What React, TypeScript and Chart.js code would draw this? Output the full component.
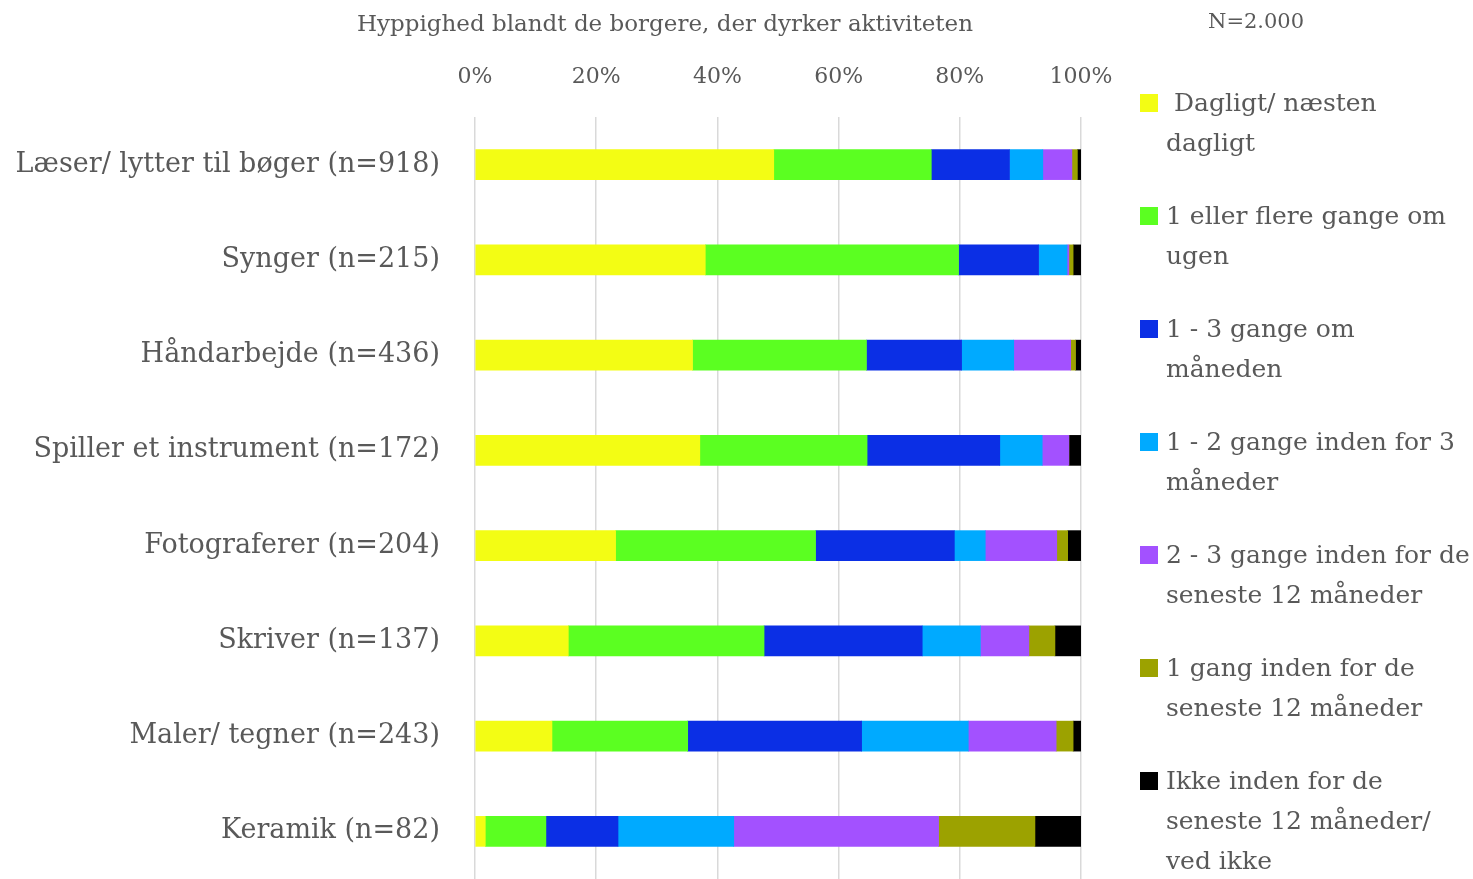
import React, { useEffect, useRef } from "react";
import { Chart, registerables } from "chart.js";

Chart.register(...registerables);

const categories = [
  "Læser/ lytter til bøger (n=918)",
  "Synger (n=215)",
  "Håndarbejde (n=436)",
  "Spiller et instrument (n=172)",
  "Fotograferer (n=204)",
  "Skriver (n=137)",
  "Maler/ tegner (n=243)",
  "Keramik (n=82)",
];

const dailyValues = [49.3, 38.0, 35.9, 37.1, 23.2, 15.4, 12.7, 1.7];
const weeklyValues = [26.0, 41.8, 28.7, 27.6, 33.0, 32.3, 22.4, 10.0];
const monthlyValues = [12.9, 13.2, 15.7, 21.9, 22.9, 26.1, 28.7, 11.9];
const quarterValues = [5.5, 4.7, 8.6, 7.0, 5.1, 9.6, 17.6, 19.1];
const twoThreeYearValues = [4.8, 0.3, 9.4, 4.4, 11.8, 8.0, 14.5, 33.8];
const onceYearValues = [0.9, 0.7, 0.8, 0.0, 1.8, 4.3, 2.8, 15.9];
const notAtAllValues = [0.6, 1.3, 0.9, 2.0, 2.2, 4.3, 1.3, 7.6];

const seriesLabels = [
  [" Dagligt/ næsten", "dagligt"],
  ["1 eller flere gange om", "ugen"],
  ["1 - 3 gange om", "måneden"],
  ["1 - 2 gange inden for 3", "måneder"],
  ["2 - 3 gange inden for de", "seneste 12 måneder"],
  ["1 gang inden for de", "seneste 12 måneder"],
  ["Ikke inden for de", "seneste 12 måneder/", "ved ikke"],
];
const seriesValues = [
  dailyValues,
  weeklyValues,
  monthlyValues,
  quarterValues,
  twoThreeYearValues,
  onceYearValues,
  notAtAllValues,
];
const seriesColors = ["#F3FD14", "#5BFF21", "#0B2FE5", "#00AAFF", "#A351FF", "#9CA200", "#000000"];

const xTicks = [0, 20, 40, 60, 80, 100];

const titleText = "Hyppighed blandt de borgere, der dyrker aktiviteten";
const noteText = "N=2.000";

const FONT = "'DejaVu Serif', serif";
const TEXT = "#595959";

export default function App() {
  const ref = useRef<HTMLCanvasElement | null>(null);

  useEffect(() => {
    document.body.style.margin = "0";
    const canvas = ref.current;
    if (!canvas) return;
    const chart = new Chart(canvas, {
      type: "bar",
      data: {
        labels: categories,
        datasets: seriesValues.map((vals, i) => ({
          label: seriesLabels[i].join(" ").trim(),
          data: vals,
          backgroundColor: seriesColors[i],
          borderWidth: 0,
          barThickness: 30,
        })),
      },
      options: {
        indexAxis: "y",
        responsive: false,
        animation: false,
        maintainAspectRatio: false,
        layout: { padding: { top: 0, right: 392, bottom: 0, left: 0 } },
        plugins: {
          legend: { display: false },
          title: { display: false },
          tooltip: { enabled: false },
        },
        scales: {
          x: {
            position: "top",
            stacked: true,
            min: 0,
            max: 100,
            afterBuildTicks: (scale: any) => {
              scale.ticks = xTicks.map((v) => ({ value: v }));
            },
            afterFit: (scale: any) => {
              scale.height = 117;
              scale.paddingLeft = 0;
              scale.paddingRight = 0;
            },
            ticks: {
              callback: (v: any) => v + "%",
              font: { family: FONT, size: 22 },
              color: TEXT,
              padding: 27,
            },
            grid: { color: "#D9D9D9", lineWidth: 1.5, drawTicks: false },
            border: { display: false },
          },
          y: {
            stacked: true,
            afterFit: (scale: any) => {
              scale.width = 475;
              scale.paddingTop = 0;
              scale.paddingBottom = 0;
            },
            ticks: {
              font: { family: FONT, size: 27 },
              color: TEXT,
              padding: 35,
            },
            grid: { display: false, drawTicks: false },
            border: { display: false },
          },
        },
      },
    });
    return () => chart.destroy();
  }, []);

  return (
    <div style={{ position: "relative", width: 1473, height: 879, overflow: "hidden", background: "#fff", fontFamily: FONT, color: TEXT }}>
      <canvas ref={ref} width={1473} height={879} style={{ position: "absolute", left: 0, top: 0 }} />
      <div style={{ position: "absolute", left: 345, width: 640, top: 8, textAlign: "center", fontSize: 23, lineHeight: "30px", whiteSpace: "nowrap" }}>
        {titleText}
      </div>
      <div style={{ position: "absolute", left: 1208, top: 6, fontSize: 21, lineHeight: "30px", whiteSpace: "nowrap" }}>{noteText}</div>
      <div style={{ position: "absolute", left: 1140, top: 83, display: "flex", flexDirection: "column", gap: 33 }}>
        {seriesLabels.map((lines, i) => (
          <div key={i} style={{ position: "relative", paddingLeft: 26 }}>
            <span style={{ position: "absolute", left: 0, top: 11, width: 18, height: 18, background: seriesColors[i] }} />
            {lines.map((ln, j) => (
              <div key={j} style={{ fontSize: 25, lineHeight: "40px", whiteSpace: "pre" }}>{ln}</div>
            ))}
          </div>
        ))}
      </div>
    </div>
  );
}
